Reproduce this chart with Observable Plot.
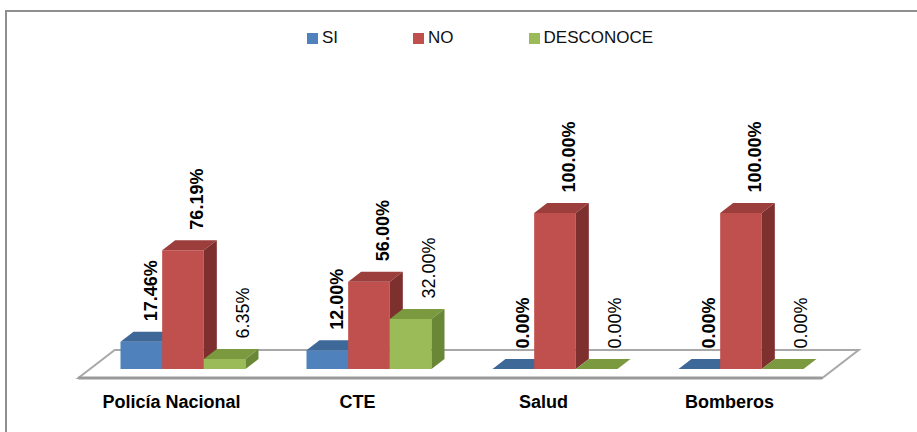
<!DOCTYPE html>
<html><head><meta charset="utf-8">
<script src="https://cdn.jsdelivr.net/npm/d3@7"></script>
<script src="https://cdn.jsdelivr.net/npm/@observablehq/plot@0.6"></script>
<style>
html,body{margin:0;padding:0;background:#fff;}
body{width:917px;height:432px;position:relative;overflow:hidden;font-family:"Liberation Sans",Arial,sans-serif;}
#frame{position:absolute;left:5px;top:10px;width:1000px;height:1000px;border-left:2px solid #8f8f8f;border-top:2px solid #8f8f8f;box-sizing:border-box;}
#chart{position:absolute;left:0;top:0;}
#legend{position:absolute;left:307px;top:28px;display:flex;gap:75px;font-size:17px;color:#111;line-height:20px;}
.item{display:flex;align-items:center;}
.sw{width:11px;height:11px;margin-right:4px;}
</style></head><body>
<div id="frame"></div><div id="chart"></div><div id="legend"></div>
<script>
const categories = ["Policía Nacional", "CTE", "Salud", "Bomberos"];
const series = ["SI", "NO", "DESCONOCE"];
const si = [17.46, 12.00, 0.00, 0.00];
const no = [76.19, 56.00, 100.00, 100.00];
const desconoce = [6.35, 32.00, 0.00, 0.00];
const seriesValues = [si, no, desconoce];

// front, top, side shades
const palette = {
  SI: ["#4f81bd", "#3d6898", "#345a86"],
  NO: ["#c0504d", "#9c3e3c", "#7e302e"],
  DESCONOCE: ["#9bbb59", "#7b9a40", "#6a8737"]
};
const labelDx = {SI: 9, NO: 14, DESCONOCE: 18};
const BW = 0.224;   // bar width in x units
const DX = 13, DY = 10; // 3D depth in px

const rows = [];
categories.forEach((c, gi) => {
  series.forEach((s, si_) => {
    rows.push({category: c, gi, series: s, si: si_, value: seriesValues[si_][gi],
      center: gi + (si_ - 1) * BW});
  });
});

function bars3D(index, scales, values) {
  const g = d3.create("svg:g");
  for (const i of index) {
    const x1 = values.x1[i], x2 = values.x2[i], yb = values.y1[i], yt = values.y2[i];
    const c = palette[rows[i].series];
    g.append("path").attr("d", `M${x1},${yb}L${x2},${yb}L${x2},${yt}L${x1},${yt}Z`).attr("fill", c[0]);
    g.append("path").attr("d", `M${x1},${yt}L${x1+DX},${yt-DY}L${x2+DX},${yt-DY}L${x2},${yt}Z`).attr("fill", c[1]);
    g.append("path").attr("d", `M${x2},${yb}L${x2},${yt}L${x2+DX},${yt-DY}L${x2+DX},${yb-DY}Z`).attr("fill", c[2]);
  }
  return g.node();
}

function floor3D(index, scales, values) {
  const g = d3.create("svg:g");
  for (const i of index) {
    const x1 = values.x1[i], x2 = values.x2[i], y0 = values.y1[i];
    const f = 0.9, b = 1.9;
    const fl = [x1 - f*DX, y0 + f*DY], fr = [x2 - f*DX, y0 + f*DY];
    const bl = [x1 + b*DX, y0 - b*DY], br = [x2 + b*DX, y0 - b*DY];
    g.append("path").attr("d", `M${fl}L${bl}L${br}L${fr}Z`)
      .attr("fill", "#fff").attr("stroke", "#a8a8a8").attr("stroke-width", 2);
    g.append("path").attr("d", `M${fl}L${fr}`).attr("stroke", "#9a9a9a").attr("stroke-width", 3);
  }
  return g.node();
}

const fmt = v => v.toFixed(2) + "%";

const marks = [
  Plot.rectY([{x1: -0.5, x2: 3.5}], {x1: "x1", x2: "x2", y1: 0, y2: 0, render: floor3D}),
  Plot.rectY(rows, {x1: d => d.center - BW/2, x2: d => d.center + BW/2, y1: 0, y2: "value", render: bars3D}),
  ...series.map(s => Plot.text(rows.filter(d => d.series === s), {
    x: "center", y: "value", text: d => fmt(d.value), rotate: -90, textAnchor: "start",
    dx: labelDx[s], dy: -21, fontSize: 18, fontWeight: s === "DESCONOCE" ? "normal" : "bold", fill: "#000"
  })),
  Plot.axisX({ticks: [0, 1, 2, 3], tickFormat: i => categories[i], tickSize: 0, tickPadding: 26,
    dx: -12, fontSize: 18, fontWeight: "bold"})
];

const chart = Plot.plot({
  width: 917, height: 432,
  marginLeft: 90, marginRight: 83, marginTop: 213, marginBottom: 63,
  x: {domain: [-0.5, 3.5]},
  y: {domain: [0, 100], axis: null},
  style: {fontFamily: "Liberation Sans, Arial, sans-serif", background: "transparent", overflow: "visible"},
  marks
});
document.getElementById("chart").appendChild(chart);

const legend = document.getElementById("legend");
series.forEach(s => {
  const it = document.createElement("div"); it.className = "item";
  const sw = document.createElement("div"); sw.className = "sw"; sw.style.background = palette[s][0];
  const t = document.createElement("span"); t.textContent = s;
  it.appendChild(sw); it.appendChild(t); legend.appendChild(it);
});
</script>
</body></html>
